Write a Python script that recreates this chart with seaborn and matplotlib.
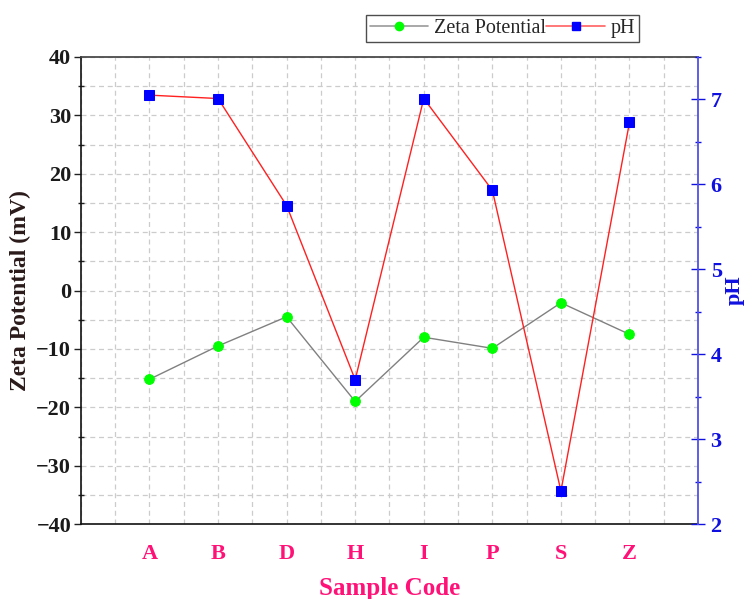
import matplotlib
matplotlib.use("Agg")
import matplotlib.pyplot as plt
import seaborn as sns
import pandas as pd
from matplotlib.ticker import MultipleLocator
from matplotlib.lines import Line2D

categories = ["A", "B", "D", "H", "I", "P", "S", "Z"]
zeta = [-15.2, -9.5, -4.5, -19.0, -8.0, -9.9, -2.1, -7.5]
ph = [7.05, 7.01, 5.75, 3.70, 7.01, 5.93, 2.39, 6.73]

sns.set_theme(style="white")
plt.rcParams['font.family'] = ['Liberation Serif', 'DejaVu Serif']
plt.rcParams['mathtext.default'] = 'regular'

df = pd.DataFrame({"pos": list(range(1, len(categories) + 1)),
                   "cat": categories, "zeta": zeta, "ph": ph})

fig = plt.figure(figsize=(7.49, 5.99), dpi=100)
ax = fig.add_axes([0.108, 0.125, 0.824, 0.78])
ax2 = ax.twinx()

sns.lineplot(data=df, x="pos", y="zeta", ax=ax, color="#808080", lw=1,
             marker="o", markersize=7, markerfacecolor="#00FF00",
             markeredgecolor="#00FF00", zorder=3)
sns.lineplot(data=df, x="pos", y="ph", ax=ax2, color="#FF2020", lw=1,
             marker="s", markersize=7, markerfacecolor="#0000FF",
             markeredgecolor="#0000FF", zorder=3)

ax.set_xlim(0, 9)
ax.set_ylim(-40, 40)
ax2.set_ylim(2, 7.5)

ax.set_xticks(df["pos"])
ax.set_xticklabels(categories)
ax.xaxis.set_minor_locator(MultipleLocator(0.5))
ax.yaxis.set_major_locator(MultipleLocator(10))
ax.yaxis.set_minor_locator(MultipleLocator(5))
ax2.yaxis.set_major_locator(MultipleLocator(1))
ax2.yaxis.set_minor_locator(MultipleLocator(0.5))

ax.grid(True, which="both", axis="both", color="#cccccc", ls=(0, (4, 3)), lw=0.9)
ax.set_axisbelow(True)

for lbl in ax.get_xticklabels():
    lbl.set_color("#FF1177")
    lbl.set_fontweight("bold")
for lbl in ax.get_yticklabels():
    lbl.set_fontweight("bold")
for lbl in ax2.get_yticklabels():
    lbl.set_fontweight("bold")
    lbl.set_color("#1010E0")

ax.tick_params(axis="x", which="major", direction="inout", length=8, width=1,
               labelsize=16, pad=10, color="#333333")
ax.tick_params(axis="x", which="minor", direction="inout", length=6, width=1, color="#333333")
ax.tick_params(axis="y", which="major", direction="out", length=5, width=1,
               labelsize=16, pad=2, color="#222222", labelcolor="#1a1a1a")
ax.tick_params(axis="y", which="minor", direction="inout", length=4, width=1, color="#222222")
ax2.tick_params(axis="y", which="major", direction="inout", length=10, width=1,
                labelsize=16, pad=4, color="#1010E0")
ax2.tick_params(axis="y", which="minor", direction="inout", length=5, width=1, color="#1010E0")

for s in ["left", "bottom"]:
    ax.spines[s].set_color("#111111")
    ax.spines[s].set_linewidth(1.2)
ax.spines["top"].set_color("#444444")
ax.spines["right"].set_visible(False)
ax2.spines["right"].set_color("#5050E8")
ax2.spines["right"].set_linewidth(1.3)
for s in ["left", "bottom", "top"]:
    ax2.spines[s].set_visible(False)

ax.set_xlabel("Sample Code", fontsize=18, fontweight="bold", color="#FF1177", labelpad=10)
ax.set_ylabel("Zeta Potential (mV)", fontsize=17, fontweight="bold", color="#2a1a1a", labelpad=4)
ax2.set_ylabel("pH", fontsize=16, fontweight="bold", color="#1010E0", labelpad=2)

handles = [
    Line2D([], [], color="#999999", lw=1.2, marker="o", markersize=6,
           markerfacecolor="#00FF00", markeredgecolor="#00FF00"),
    Line2D([], [], color="#FF6060", lw=1.2, marker="s", markersize=6,
           markerfacecolor="#0000FF", markeredgecolor="#0000FF"),
]
fig.legend(handles, ["Zeta Potential", "pH"], loc="center", ncol=2,
           bbox_to_anchor=(0.671, 0.952), frameon=True, fancybox=False,
           edgecolor="#222222", fontsize=14.5, columnspacing=0.0,
           handlelength=2.9, handletextpad=0.3, borderpad=0.2)

fig.savefig("out.png", dpi=100)
